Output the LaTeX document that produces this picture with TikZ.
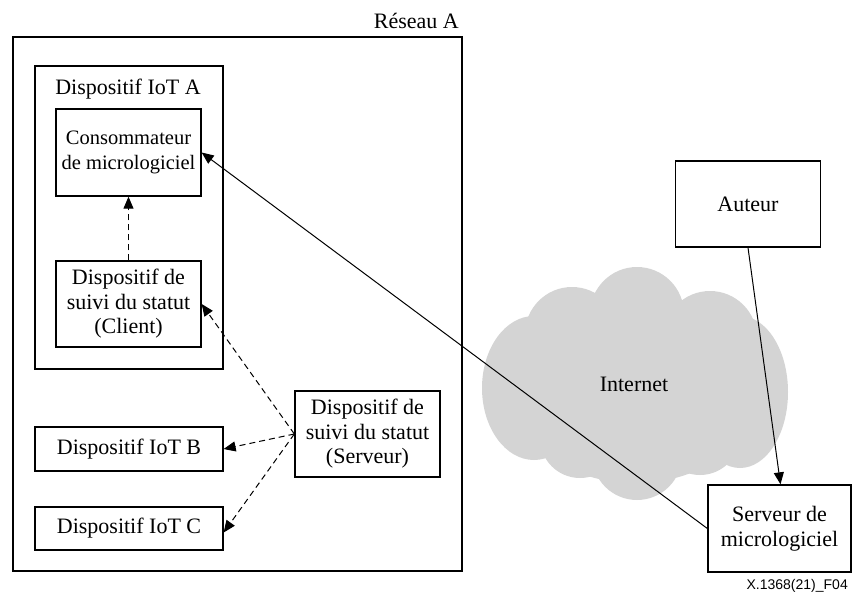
\documentclass[tikz,border=0pt]{standalone}
\usepackage{fontspec}
\setmainfont{Liberation Serif}
\newfontfamily\figlabelfont{Liberation Sans}
\usetikzlibrary{arrows.meta}
\definecolor{cloudgray}{RGB}{212,212,212}
\begin{document}
\begin{tikzpicture}[x=1pt,y=-1pt,
  every node/.style={font=\fontsize{22}{24.5}\selectfont, inner sep=0pt},
  box/.style={draw, line width=1.3pt, align=center},
  link/.style={line width=1pt, -{Triangle[length=12pt,width=10pt]}},
  dlink/.style={link, dash pattern=on 6pt off 4pt}]
\useasboundingbox (0,0) rectangle (852,594);

% Internet cloud made of overlapping puffs
\begin{scope}[fill=cloudgray]
  \fill (635,388) ellipse [x radius=125, y radius=95];
  \fill (637,314) circle [radius=47];
  \fill (572,334) circle [radius=47];
  \fill (710,338) circle [radius=47];
  \fill (534,388) ellipse [x radius=52, y radius=72];
  \fill (740,392) ellipse [x radius=48, y radius=76];
  \fill (580,438) circle [radius=40];
  \fill (700,435) circle [radius=40];
  \fill (637,455) circle [radius=45];
\end{scope}
\node (internet) at (634,384) {Internet};

% Network A and its devices
\node[box, minimum width=449, minimum height=534] (net) at (237.5,304) {};
\node[anchor=base east] (netlabel) at (459,29) {Réseau A};

\node[box, minimum width=188, minimum height=303] (iota) at (129,217.5) {};
\node[anchor=base] (iotalabel) at (128,95) {Dispositif IoT A};
\node[box, minimum width=145, minimum height=87,
      font=\fontsize{20.5}{25}\selectfont] (cons) at (128.5,152.5)
      {Consommateur\\de micrologiciel};
\node[box, minimum width=145, minimum height=86] (client) at (128.5,304)
      {Dispositif de\\suivi du statut\\(Client)};

\node[box, minimum width=188, minimum height=44] (iotb) at (129,449) {Dispositif IoT B};
\node[box, minimum width=188, minimum height=43] (iotc) at (129,528.5) {Dispositif IoT C};

\node[box, minimum width=145, minimum height=86] (srvstat) at (367.5,434)
      {Dispositif de\\suivi du statut\\(Serveur)};

% Outside parties
\node[box, minimum width=145, minimum height=86] (auteur) at (748,204) {Auteur};
\node[box, minimum width=143, minimum height=87] (fwsrv) at (779.5,528.5)
      {Serveur de\\micrologiciel};

\node[anchor=base east, font=\figlabelfont\fontsize{14}{16}\selectfont] (figlabel)
      at (848,589) {X.1368(21)\_F04};

% Connectors
\draw[dlink] (client.north) -- (cons.south);
\draw[dlink] (srvstat.west) -- (client.east);
\draw[dlink] (srvstat.west) -- (iotb.east);
\draw[dlink] (srvstat.west) -- ([yshift=-4pt]iotc.east);
\draw[link] (fwsrv.west) -- (cons.east);
\draw[link] (auteur.south) -- ([xshift=1pt]fwsrv.north);
\end{tikzpicture}
\end{document}
